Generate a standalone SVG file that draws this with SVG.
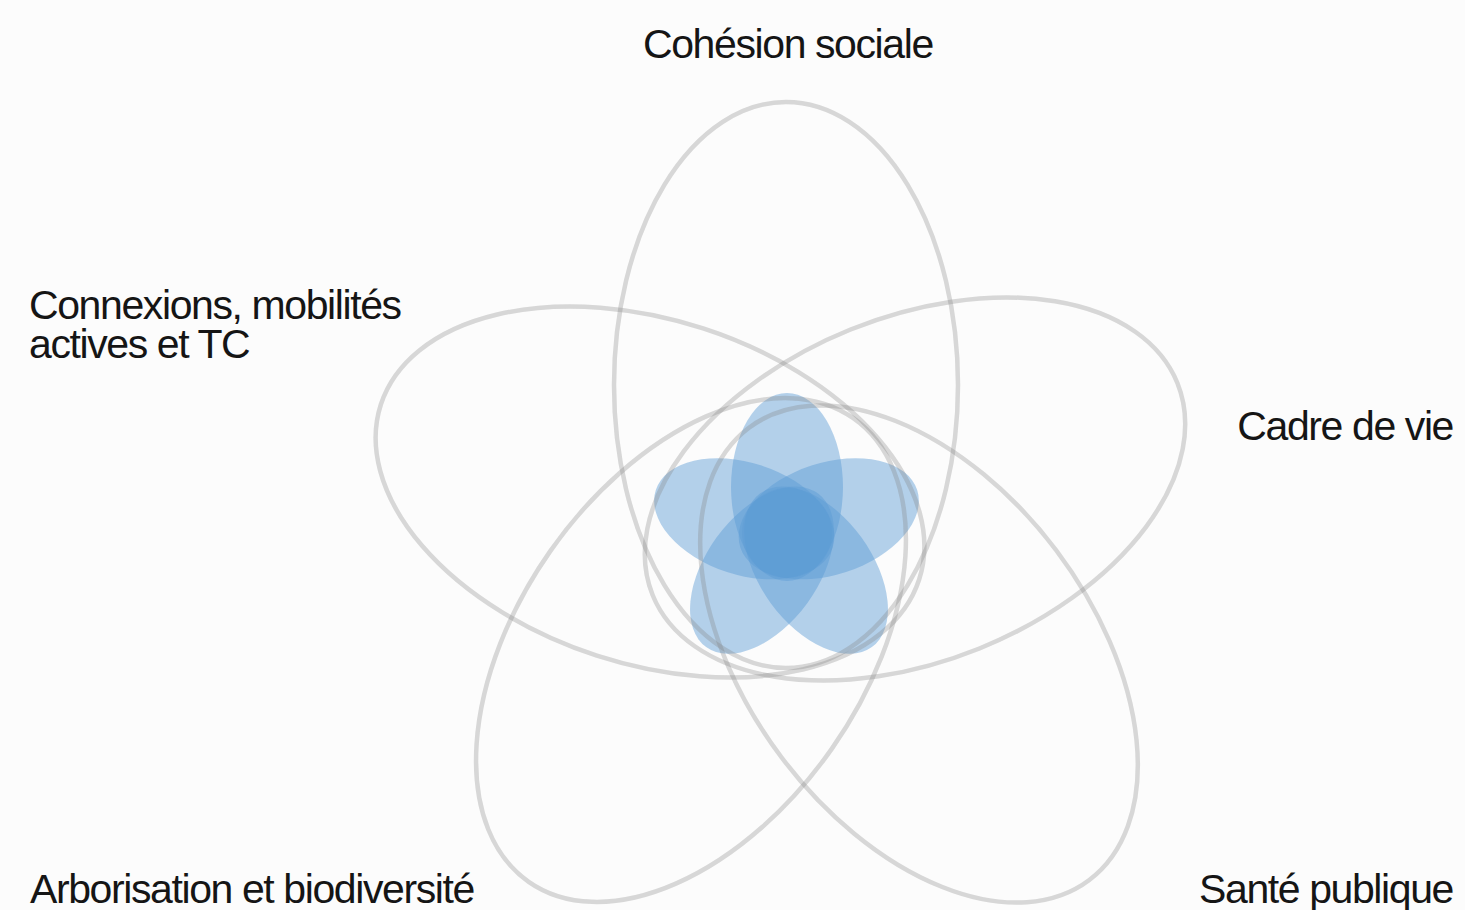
<svg xmlns="http://www.w3.org/2000/svg" width="1465" height="910" viewBox="0 0 1465 910">
<style>
.ring{fill:none;stroke:#808080;stroke-opacity:0.3;stroke-width:4.5}
.petal{fill:#5b9bd5;fill-opacity:0.45}
.core{fill:#5b9bd5;fill-opacity:0.35}
.lbl{font-family:"Liberation Sans",Arial,Helvetica,sans-serif;font-size:41px;letter-spacing:-1.4px;fill:#151515}
</style>
<rect width="1465" height="910" fill="#fcfcfc"/>
<g id="flower">
<ellipse class="petal" cx="46" cy="0" rx="94" ry="56" transform="translate(787 533) rotate(-90)"/>
<ellipse class="petal" cx="46" cy="0" rx="93" ry="56" transform="translate(785 533) rotate(-18)"/>
<ellipse class="petal" cx="46" cy="0" rx="95" ry="56" transform="translate(789 533) rotate(54)"/>
<ellipse class="petal" cx="46" cy="0" rx="95" ry="56" transform="translate(789 533) rotate(126)"/>
<ellipse class="petal" cx="46" cy="0" rx="93" ry="56" transform="translate(788 533) rotate(198)"/>
<circle class="core" cx="787" cy="533" r="45"/>
</g>
<g id="cohesion">
<ellipse class="ring" cx="786" cy="385" rx="172" ry="283"/>
<text class="lbl" x="643" y="58">Cohésion sociale</text>
</g>
<g id="cadre">
<ellipse class="ring" cx="0" cy="0" rx="283" ry="172" transform="translate(915 489) rotate(-22)"/>
<text class="lbl" x="1453" y="440" text-anchor="end">Cadre de vie</text>
</g>
<g id="connexions">
<ellipse class="ring" cx="0" cy="0" rx="283" ry="172" transform="translate(650 492) rotate(18)"/>
<text class="lbl" x="29" y="319">Connexions, mobilités<tspan x="29" y="358">actives et TC</tspan></text>
</g>
<g id="arborisation">
<ellipse class="ring" cx="0" cy="0" rx="283" ry="172" transform="translate(691 650) rotate(-55)"/>
<text class="lbl" x="30" y="903">Arborisation et biodiversité</text>
</g>
<g id="sante">
<ellipse class="ring" cx="0" cy="0" rx="283" ry="172" transform="translate(919 654) rotate(53)"/>
<text class="lbl" x="1453" y="903" text-anchor="end">Santé publique</text>
</g>
<g id="connectors"/>
</svg>
